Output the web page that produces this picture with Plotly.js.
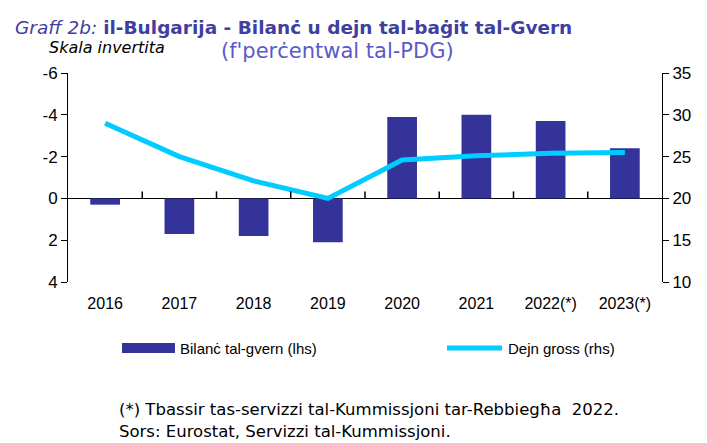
<!DOCTYPE html>
<html><head><meta charset="utf-8">
<script src="https://cdn.plot.ly/plotly-3.0.1.min.js"></script>
<style>body{margin:0;background:#fff}#c{width:707px;height:443px}</style>
</head><body><div id="c"></div>
<script>
const years = ["2016","2017","2018","2019","2020","2021","2022(*)","2023(*)"];
const balance = [0.3, 1.7, 1.8, 2.1, -3.9, -4.0, -3.7, -2.4];
const debt = [29.0, 25.0, 22.1, 20.0, 24.6, 25.1, 25.4, 25.5];
const leftTicks = [-6,-4,-2,0,2,4];
const rightTicks = [10,15,20,25,30,35];
const seriesNames = ["Bilanċ tal-gvern (lhs)", "Dejn gross (rhs)"];

const axFont = {family:"Liberation Sans, Arial", size:17, color:"#000"};
const traces = [
  {type:"bar", x:years, y:balance, name:seriesNames[0], marker:{color:"#333399"}, width:0.4, xaxis:"x", yaxis:"y", showlegend:false},
  {type:"scatter", mode:"lines", x:years, y:debt, name:seriesNames[1], line:{color:"#00CCFF", width:5}, xaxis:"x2", yaxis:"y2", showlegend:false}
];
// small upward ticks on the zero line, between categories (thin filled rects)
const tickShapes = [];
const halfW = 0.75 / 594;
for (let i = 1; i < years.length; i++) {
  const xc = i / years.length;
  tickShapes.push({type:"rect", layer:"above", xref:"paper", yref:"paper", x0:xc - halfW, x1:xc + halfW, y0:0.4, y1:0.4 + 7/209, fillcolor:"#000000", line:{width:0}});
}
const layout = {
  width:707, height:443,
  margin:{l:68, r:45, t:73, b:161},
  paper_bgcolor:"#fff", plot_bgcolor:"#fff",
  showlegend:false,
  xaxis:{type:"category", range:[-0.5,7.5], showline:false, ticks:"outside", ticklen:7, tickcolor:"rgba(0,0,0,0)", tickfont:{family:"Liberation Sans, Arial", size:16, color:"#000"}, showgrid:false, zeroline:false},
  xaxis2:{type:"category", range:[-0.5,7.5], overlaying:"x", anchor:"y2", visible:false, showgrid:false, zeroline:false},
  yaxis:{range:[4,-6], tickvals:leftTicks, ticktext:leftTicks.map(String), showline:true, linecolor:"#000", ticks:"outside", ticklen:6, tickcolor:"#000", tickfont:axFont, showgrid:false, zeroline:true, zerolinecolor:"#000", zerolinewidth:1},
  yaxis2:{range:[10,35], tickvals:rightTicks, overlaying:"y", side:"right", anchor:"free", position:1, showline:true, linecolor:"#000", ticks:"outside", ticklen:6, tickcolor:"#000", tickfont:axFont, showgrid:false, zeroline:false},
  shapes:tickShapes.concat([
    {type:"rect", xref:"paper", yref:"paper", x0:0.0909, x1:0.1801, y0:-0.3397, y1:-0.2919, fillcolor:"#333399", line:{width:0}},
    {type:"line", xref:"paper", yref:"paper", x0:0.638, x1:0.7306, y0:-0.3158, y1:-0.3158, line:{color:"#00CCFF", width:5}}
  ]),
  annotations:[
    {xref:"paper", yref:"paper", x:-0.0926, y:1.220, xanchor:"left", yanchor:"middle", showarrow:false,
     text:"<i>Graff 2b:</i> <b>il-Bulgarija - Bilanċ u dejn tal-baġit tal-Gvern</b>", font:{family:"DejaVu Sans", size:18.5, color:"#3F3F9F"}},
    {xref:"paper", yref:"paper", x:0.4545, y:1.105, xanchor:"center", yanchor:"middle", showarrow:false,
     text:"(f'perċentwal tal-PDG)", font:{family:"DejaVu Sans", size:21, color:"#5B5BC8"}},
    {xref:"paper", yref:"paper", x:-0.035, y:1.120, xanchor:"left", yanchor:"middle", showarrow:false,
     text:"<i>Skala invertita</i>", font:{family:"DejaVu Sans", size:16, color:"#000"}},
    {xref:"paper", yref:"paper", x:0.1852, y:-0.3158, xanchor:"left", yanchor:"middle", showarrow:false,
     text:seriesNames[0], font:{family:"Liberation Sans, Arial", size:15, color:"#000"}},
    {xref:"paper", yref:"paper", x:0.7374, y:-0.3158, xanchor:"left", yanchor:"middle", showarrow:false,
     text:seriesNames[1], font:{family:"Liberation Sans, Arial", size:15, color:"#000"}},
    {xref:"paper", yref:"paper", x:0.0825, y:-0.6077, xanchor:"left", yanchor:"middle", showarrow:false,
     text:"(*) Tbassir tas-servizzi tal-Kummissjoni tar-Rebbiegħa  2022.", font:{family:"DejaVu Sans", size:16.5, color:"#000"}},
    {xref:"paper", yref:"paper", x:0.0825, y:-0.7177, xanchor:"left", yanchor:"middle", showarrow:false,
     text:"Sors: Eurostat, Servizzi tal-Kummissjoni.", font:{family:"DejaVu Sans", size:16.5, color:"#000"}}
  ]
};
Plotly.newPlot("c", traces, layout, {displayModeBar:false, staticPlot:true});
</script></body></html>
